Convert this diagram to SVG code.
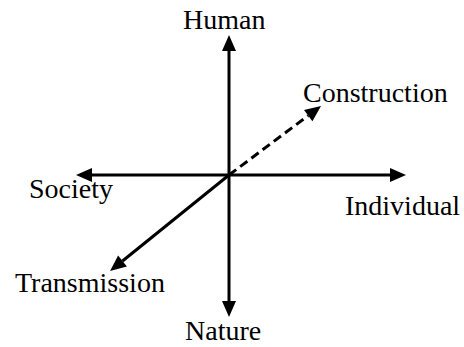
<svg xmlns="http://www.w3.org/2000/svg" width="464" height="347" viewBox="0 0 464 347">
  <style>
    .lbl { font-family: "Liberation Serif", "Times New Roman", serif; font-size: 28px; fill: #000; }
    .ax { stroke: #000; stroke-width: 3; fill: none; }
    .dash { stroke-dasharray: 9 5; }
  </style>
  <defs>
    <marker id="ah" markerUnits="userSpaceOnUse" markerWidth="18" markerHeight="16" refX="0" refY="7" orient="auto" overflow="visible">
      <path d="M0,0 L16,7 L0,14 z" fill="#000" stroke="none"/>
    </marker>
  </defs>
  <rect width="464" height="347" fill="#fff"/>
  <g id="connectors">
    <line class="ax" x1="229" y1="175" x2="229" y2="51" marker-end="url(#ah)"/>
    <line class="ax" x1="229" y1="175" x2="229" y2="301" marker-end="url(#ah)"/>
    <line class="ax" x1="229" y1="175" x2="92" y2="175" marker-end="url(#ah)"/>
    <line class="ax" x1="229" y1="175" x2="390" y2="175" marker-end="url(#ah)"/>
    <line class="ax" x1="229" y1="175" x2="122.5" y2="261" marker-end="url(#ah)"/>
    <line class="ax dash" x1="229" y1="175" x2="308.2" y2="115.6" marker-end="url(#ah)"/>
  </g>
  <g id="human"><text class="lbl" x="183" y="29">Human</text></g>
  <g id="construction"><text class="lbl" x="303" y="102">Construction</text></g>
  <g id="society"><text class="lbl" x="29" y="198">Society</text></g>
  <g id="individual"><text class="lbl" x="345" y="215">Individual</text></g>
  <g id="transmission"><text class="lbl" x="15" y="292">Transmission</text></g>
  <g id="nature"><text class="lbl" x="185" y="340">Nature</text></g>
</svg>
